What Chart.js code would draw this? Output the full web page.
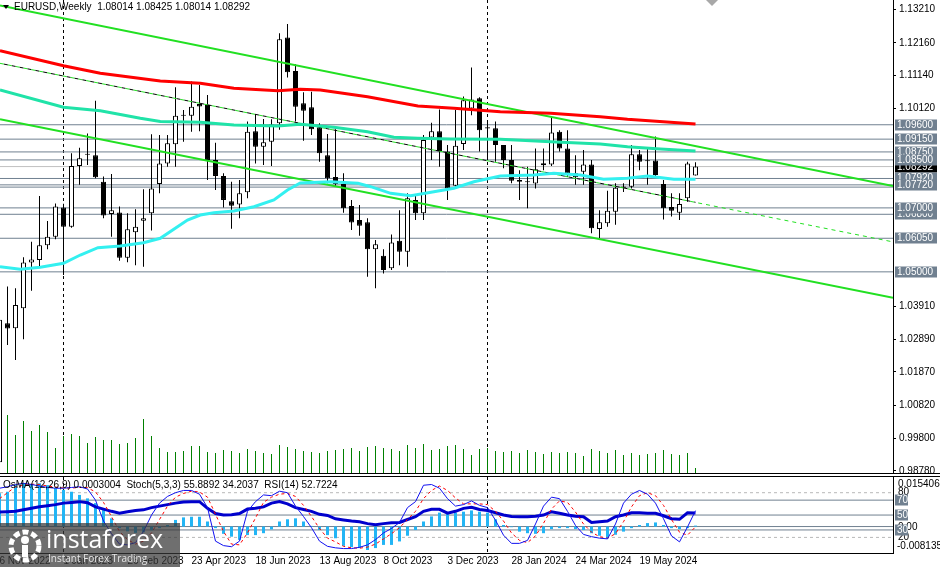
<!DOCTYPE html>
<html>
<head>
<meta charset="utf-8">
<script src="https://cdn.jsdelivr.net/npm/chart.js@4.4.1/dist/chart.umd.min.js"></script>
<style>
  body { margin: 0; background: #fff; }
  #box { position: relative; width: 940px; height: 567px; overflow: hidden; font-family: "Liberation Sans", Arial, sans-serif; }
  canvas { position: absolute; left: 0; }
  #main { top: 0; }
  #ind { top: 474px; }
  .txt { position: absolute; font-size: 10px; line-height: 12px; color: #000; white-space: pre; }
  .tri { position: absolute; width: 0; height: 0; }
  #mark { position: absolute; left: 0; top: 523px; width: 180px; height: 44px; background: rgba(55,55,55,0.72); }
  #mark .big { position: absolute; left: 46px; top: 0px; font: 25px/30px "Open Sans", sans-serif; color: #fff; }
  #mark .small { position: absolute; left: 48px; top: 29px; font: 10px/12px "Open Sans", sans-serif; color: #e6e6e6; }
</style>
</head>
<body>
<div id="box">
  <canvas id="main" width="940" height="474"></canvas>
  <canvas id="ind" width="940" height="93"></canvas>
  <div class="tri" style="left:3px;top:5px;border-left:3px solid transparent;border-right:3px solid transparent;border-top:4px solid #000"></div>
  <div class="txt" id="title1" style="left:14px;top:1px"></div>
  <div class="txt" id="title2" style="left:3px;top:479px"></div>
  <div class="tri" style="left:706px;top:0px;border-left:6px solid transparent;border-right:6px solid transparent;border-top:6px solid #a8a8a8"></div>
  <div id="mark">
    <svg width="40" height="40" viewBox="0 0 40 40" style="position:absolute;left:5px;top:3px">
      <circle cx="20" cy="20" r="14" fill="none" stroke="#fff" stroke-width="5" stroke-dasharray="6 3"/>
      <circle cx="20" cy="14" r="4" fill="#fff"/>
      <rect x="17" y="19" width="6" height="12" fill="#fff"/>
    </svg>
    <div class="big">instaforex</div>
    <div class="small">Instant Forex Trading</div>
  </div>
</div>
<script>
// weekly bars, index 0 = week of 1 Jan 2023; first bar shown is 8 weeks earlier
const firstWeek = -8;

const openP = [0.9905, 1.0339, 1.0324, 1.0386, 1.0529, 1.0537, 1.0583, 1.0610, 1.0701, 1.0641,
  1.0831, 1.0866, 1.0865, 1.0782, 1.0681, 1.0686, 1.0544, 1.0624, 1.0660, 1.0683,
  1.0775, 1.0839, 1.0899, 1.0988, 1.0988, 1.1025, 1.1022, 1.0850, 1.0800, 1.0721,
  1.0711, 1.0749, 1.0940, 1.0891, 1.0907, 1.0965, 1.1233, 1.1128, 1.1027, 1.1015,
  1.0952, 1.0865, 1.0797, 1.0775, 1.0706, 1.0662, 1.0655, 1.0571, 1.0550, 1.0511,
  1.0597, 1.0563, 1.0725, 1.0683, 1.0920, 1.0940, 1.0876, 1.0769, 1.0900, 1.1011,
  1.1043, 1.0952, 1.0949, 1.0897, 1.0850, 1.0787, 1.0782, 1.0776, 1.0833, 1.0836,
  1.0938, 1.0886, 1.0808, 1.0813, 1.0836, 1.0634, 1.0652, 1.0688, 1.0763, 1.0766,
  1.0868, 1.0846, 1.0848, 1.0775, 1.0703, 1.0685, 1.0730, 1.08014];
const highP = [1.0360, 1.0454, 1.0449, 1.0546, 1.0594, 1.0737, 1.0659, 1.0714, 1.0713, 1.0871,
  1.0888, 1.0933, 1.1035, 1.0798, 1.0806, 1.0704, 1.0683, 1.0696, 1.0758, 1.0930,
  1.0928, 1.0928, 1.1077, 1.1006, 1.1095, 1.1084, 1.1053, 1.0904, 1.0808, 1.0782,
  1.0787, 1.0970, 1.0993, 1.0978, 1.0977, 1.1246, 1.1275, 1.1149, 1.1062, 1.1063,
  1.0965, 1.0931, 1.0946, 1.0808, 1.0725, 1.0709, 1.0668, 1.0600, 1.0571, 1.0617,
  1.0693, 1.0746, 1.0740, 1.0928, 1.0966, 1.1008, 1.0897, 1.1006, 1.1048, 1.1139,
  1.1046, 1.0970, 1.0970, 1.0897, 1.0897, 1.0818, 1.0829, 1.0886, 1.0886, 1.0985,
  1.0943, 1.0943, 1.0865, 1.0881, 1.0850, 1.0693, 1.0754, 1.0777, 1.0777, 1.0897,
  1.0881, 1.0886, 1.0923, 1.0787, 1.0746, 1.0746, 1.0844, 1.08425];
const lowP = [0.9900, 1.0271, 1.0224, 1.0289, 1.0441, 1.0516, 1.0571, 1.0602, 1.0490, 1.0638,
  1.0772, 1.0834, 1.0793, 1.0668, 1.0610, 1.0535, 1.0530, 1.0521, 1.0516, 1.0629,
  1.0746, 1.0829, 1.0829, 1.0907, 1.0938, 1.0940, 1.0787, 1.0756, 1.0701, 1.0635,
  1.0668, 1.0730, 1.0839, 1.0834, 1.0831, 1.0944, 1.1108, 1.0970, 1.0910, 1.0928,
  1.0844, 1.0777, 1.0766, 1.0685, 1.0631, 1.0613, 1.0485, 1.0449, 1.0495, 1.0506,
  1.0521, 1.0516, 1.0662, 1.0662, 1.0850, 1.0829, 1.0725, 1.0761, 1.0881, 1.0990,
  1.0876, 1.0850, 1.0844, 1.0824, 1.0777, 1.0725, 1.0699, 1.0761, 1.0818, 1.0831,
  1.0876, 1.0797, 1.0772, 1.0772, 1.0621, 1.0605, 1.0641, 1.0647, 1.0750, 1.0761,
  1.0818, 1.0772, 1.0798, 1.0664, 1.0673, 1.0662, 1.0719, 1.08014];
const closeP = [1.0350, 1.0323, 1.0396, 1.0529, 1.0539, 1.0583, 1.0610, 1.0704, 1.0641, 1.0831,
  1.0855, 1.0868, 1.0796, 1.0676, 1.0693, 1.0544, 1.0633, 1.0641, 1.0668, 1.0761,
  1.0839, 1.0902, 1.0988, 1.0990, 1.1016, 1.1017, 1.0850, 1.0800, 1.0725, 1.0707,
  1.0746, 1.0938, 1.0891, 1.0905, 1.0961, 1.1227, 1.1124, 1.1016, 1.1004, 1.0946,
  1.0871, 1.0793, 1.0775, 1.0699, 1.0654, 1.0644, 1.0571, 1.0586, 1.0506, 1.0592,
  1.0563, 1.0730, 1.0683, 1.0912, 1.0940, 1.0878, 1.0761, 1.0894, 1.1037, 1.1039,
  1.0943, 1.0948, 1.0897, 1.0850, 1.0785, 1.0782, 1.0780, 1.0821, 1.0840, 1.0936,
  1.0886, 1.0808, 1.0796, 1.0836, 1.0636, 1.0655, 1.0691, 1.0763, 1.0767, 1.0868,
  1.0844, 1.0848, 1.0803, 1.0699, 1.0691, 1.0712, 1.0839, 1.08292];
// tick volume (thousands)
const volume = [60, 58, 38, 52, 42, 48, 41, 25, 37, 39, 37, 30, 36, 33, 33, 29, 30, 35, 54, 37,
  25, 21, 21, 22, 27, 27, 21, 20, 23, 22, 20,
  24, 22, 20, 19, 28, 26, 24, 22, 21, 20, 22, 23, 24, 25, 22, 26, 27, 25, 24, 22,
  28, 25, 29, 23, 24, 27, 28, 24, 18, 24, 25, 22, 21, 22, 20, 23, 21, 19, 21, 20,
  21, 20, 17, 24, 22, 20, 23, 18, 20, 18, 19, 20, 23, 19, 18, 20, 5];

// moving averages, read at a few weeks
const maRedWeek = [-7.94, 0, 4.6, 12.1, 17.1, 21.3, 26.8, 29.6, 32.1, 38, 44.3, 48.8, 54.6, 60.9, 67.1, 70.5, 79];
const maRed = [1.11915, 1.11446, 1.11209, 1.10968, 1.10896, 1.10740, 1.10665, 1.10708, 1.10687, 1.10477,
  1.10186, 1.10114, 1.10008, 1.09958, 1.09852, 1.09770, 1.09623];
const maTealWeek = [-7.94, 0, 4.6, 9.6, 12.1, 17.1, 21.3, 26.8, 29.6, 33.8, 38, 41.3, 44.3, 48.4, 54.6, 60.9, 67.1, 70.5, 74.6, 79];
const maTeal = [1.10687, 1.10146, 1.10039, 1.09802, 1.09702, 1.09677, 1.09592, 1.09561, 1.09614, 1.09520,
  1.09383, 1.09207, 1.09176, 1.09154, 1.09145, 1.09070, 1.08998, 1.08914, 1.08842, 1.08779];
const maCyanWeek = [-7.94, -5.4, -2.9, 0, 2.1, 4.3, 7.1, 10, 12.1, 15.5, 17.1, 18.8, 21.3, 23.8, 26.3, 28, 29.6,
  33.4, 36.8, 38.4, 40.9, 43.4, 46.3, 48.8, 51.3, 54.6, 58.8, 61.3, 64.6, 67.5, 70.5, 73, 76.3, 79];
const maCyan = [1.05161, 1.05080, 1.05142, 1.05267, 1.05527, 1.05755, 1.05808, 1.05912, 1.06049, 1.06621,
  1.06778, 1.06850, 1.06903, 1.07037, 1.07247, 1.07560, 1.07778, 1.07819, 1.07769, 1.07663,
  1.07456, 1.07381, 1.07506, 1.07613, 1.07819, 1.07997, 1.08029, 1.08081, 1.08029, 1.07894,
  1.07925, 1.07997, 1.07894, 1.07894];

// channel trend lines (end points)
const channelWeeks = [-7.94, 103.69];
const channelUpper = [1.13326, 1.07685];
const channelLower = [1.09770, 1.04186];
const channelMid = [1.11521, 1.05937];
const midBlackWeeks = [-7.94, 79];
const midBlack = [1.11521, 1.07175];

// horizontal levels
const levelPrices = [1.09600, 1.09150, 1.08750, 1.08500, 1.07920, 1.07720, 1.06800, 1.07000, 1.06050, 1.05000];
const levelPlain = [1.07650];
const bidPrice = 1.08292;

const priceTicks = [1.13210, 1.12160, 1.11140, 1.10120, 1.03910, 1.02890, 1.01870, 1.00820, 0.99800, 0.98780];
const dateTickWeeks = [-8, 0, 8, 16, 24, 32, 40, 48, 56, 64, 72];
const dateTickLabels = ['6 Nov 2022', '1 Jan 2023', '26 Feb 2023', '23 Apr 2023', '18 Jun 2023', '13 Aug 2023',
  '8 Oct 2023', '3 Dec 2023', '28 Jan 2024', '24 Mar 2024', '19 May 2024'];
const separatorWeeks = [0, 53];

// indicator window
const osma = [0.0105, 0.0110, 0.0131, 0.0137, 0.0135, 0.0137, 0.0131, 0.0121, 0.0116, 0.0110,
  0.0100, 0.0089, 0.0074, 0.0052, 0.0026, -0.0005, -0.0015, -0.0020, -0.0018, -0.0012,
  -0.0005, 0.0005, 0.0021, 0.0029, 0.0031, 0.0031, 0.0016, -0.0005, -0.0023, -0.0032,
  -0.0042, -0.0027, -0.0027, -0.0021, -0.0009, 0.0016, 0.0023, 0.0026, 0.0016, 0.0002,
  -0.0011, -0.0027, -0.0037, -0.0061, -0.0065, -0.0068, -0.0074, -0.0068, -0.0058, -0.0058,
  -0.0047, -0.0029, -0.0011, 0.0016, 0.0032, 0.0044, 0.0044, 0.0044, 0.0047, 0.0051,
  0.0047, 0.0044, 0.0023, 0.0005, -0.0002, -0.0016, -0.0021, -0.0023, -0.0021, -0.0008,
  -0.0005, -0.0005, -0.0008, -0.0011, -0.0021, -0.0029, -0.0037, -0.0026, -0.0016, -0.0005,
  0.0005, 0.0011, 0.0013, 0.0005, -0.0005, -0.0008, -0.0005, 0.0003004];
const stochMain = [86, 88, 91, 92.6, 91, 89, 87, 86, 86, 87,
  88, 85, 70, 42, 25, 11, 10, 13, 28, 50,
  66, 75, 80, 83, 83, 78, 60, 15, 9, 7.5,
  15, 55, 68, 77, 76, 82, 80, 62, 48, 33,
  15, 8, 6, 5, 5, 6.7, 10, 17, 26, 32,
  40, 60, 68, 90, 91, 86, 72, 62, 64, 69,
  63, 60, 43, 23, 12, 12, 16, 38, 62, 74,
  72, 55, 36, 24, 21, 19, 18, 38, 66, 78,
  83, 78, 66, 45, 22, 14, 34, 55.8892];
const stochSignal = [72, 80, 88, 90, 91.5, 91, 89, 87.5, 86.3, 86.3,
  87, 86.7, 81, 67, 48, 28, 17, 11, 15, 26,
  44, 62, 74, 79, 82, 81, 74, 51, 28, 11,
  10, 26, 46, 67, 74, 78, 79, 75, 63, 48,
  32, 19, 14, 8, 6, 5.5, 7, 11, 18, 25,
  33, 44, 55, 72, 83, 89, 83, 73, 65, 65,
  65, 64, 55, 42, 26, 16, 13, 22, 39, 58,
  69, 67, 54, 38, 27, 21, 19, 25, 41, 61,
  76, 80, 76, 63, 44, 27, 23, 34.2037];
const rsi = [54, 54.5, 55, 57, 59, 61, 62.5, 64, 66, 67,
  68, 66.5, 61, 58, 55, 52.5, 54.5, 56, 57, 60,
  62, 64, 66, 67.5, 68, 68, 59, 52, 50, 50.5,
  52, 58, 59, 61, 66, 68, 65, 60, 57.5, 55,
  51, 49.5, 45, 43.5, 42, 41, 38.5, 37, 38.5, 39.5,
  40, 44, 47.8, 55, 57.7, 57.7, 52.5, 55, 59, 60.4,
  57.5, 56, 53, 50, 48, 47.8, 47.8, 48.5, 50, 54.5,
  52.5, 50, 48.5, 47.8, 40, 41, 42, 47.8, 50, 53,
  53, 52.5, 52.3, 49, 45, 44.3, 53, 52.7224];
const osmaTop = 0.0154064, osmaBottom = -0.0081351;
const stochDashed = [80, 20];
const stochBoxed = [70, 50, 30];

// ---------------------------------------------------------------
const X_MIN = -7.9375, X_MAX = 103.6875;
const FONT = { family: 'Liberation Sans', size: 10 };
Chart.defaults.font.family = 'Liberation Sans';
Chart.defaults.font.size = 10;

const weeks = openP.map((_, i) => firstWeek + i);
const last = openP.length - 1;

function pts(ws, vs) { return ws.map((w, i) => ({ x: w, y: vs[i] })); }

function lineSet(data, color, width, order, extra) {
  return Object.assign({ type: 'line', data, borderColor: color, borderWidth: width,
    pointRadius: 0, tension: 0, order, yAxisID: 'y' }, extra || {});
}

function hLine(v, color, axis, dash) {
  return { type: 'line', yAxisID: axis, data: [{ x: X_MIN, y: v }, { x: X_MAX, y: v }],
    borderColor: color, borderWidth: 1, borderDash: dash || [], pointRadius: 0, order: 30 };
}

document.getElementById('title1').textContent = 'EURUSD,Weekly  ' +
  [openP[last], highP[last], lowP[last], closeP[last]].map(v => v.toFixed(5)).join(' ');
document.getElementById('title2').textContent = 'OsMA(12,26,9) ' + osma[last].toFixed(7) +
  '  Stoch(5,3,3) ' + stochMain[last].toFixed(4) + ' ' + stochSignal[last].toFixed(4) +
  '  RSI(14) ' + rsi[last].toFixed(4);

function drawSeparators(chart) {
  const { ctx, chartArea: a, scales: { x } } = chart;
  ctx.save();
  ctx.strokeStyle = '#000';
  ctx.lineWidth = 1;
  ctx.setLineDash([3, 3]);
  separatorWeeks.forEach(w => {
    const px = x.getPixelForValue(w);
    ctx.beginPath();
    ctx.moveTo(px, a.top);
    ctx.lineTo(px, a.bottom);
    ctx.stroke();
  });
  ctx.restore();
}

function labelBox(ctx, text, y, bg, w) {
  ctx.fillStyle = bg;
  ctx.fillRect(895, Math.round(y) - 5.5, w, 11);
  ctx.fillStyle = '#fff';
  ctx.textBaseline = 'middle';
  ctx.textAlign = 'left';
  ctx.fillText(text, 897, Math.round(y));
}

const mainDecor = {
  id: 'mainDecor',
  beforeDatasetsDraw(chart) { drawSeparators(chart); },
  afterDraw(chart) {
    const { ctx, chartArea: a, scales: { y } } = chart;
    ctx.save();
    ctx.strokeStyle = '#000';
    ctx.beginPath();
    ctx.moveTo(0, a.bottom - 0.5);
    ctx.lineTo(940, a.bottom - 0.5);
    ctx.stroke();
    ctx.font = '10px "Liberation Sans"';
    labelBox(ctx, bidPrice.toFixed(5), y.getPixelForValue(bidPrice), '#000', 42);
    levelPrices.forEach(p => labelBox(ctx, p.toFixed(5), y.getPixelForValue(p), '#708090', 42));
    ctx.restore();
  }
};

const mainSets = [];
levelPrices.concat(levelPlain).forEach(p => mainSets.push(hLine(p, '#708090', 'y')));
mainSets.push(hLine(bidPrice, '#c0c0c0', 'y'));
mainSets.push({ type: 'bar', yAxisID: 'yv', data: pts(weeks, volume), backgroundColor: '#008000',
  barThickness: 1, grouped: false, inflateAmount: 0, order: 20 });
mainSets.push({ type: 'bar', yAxisID: 'y', data: weeks.map((w, i) => ({ x: w, y: [lowP[i], highP[i]] })),
  backgroundColor: '#000', barThickness: 1, grouped: false, inflateAmount: 0, order: 6 });
mainSets.push({ type: 'bar', yAxisID: 'y', data: weeks.map((w, i) => ({ x: w, y: [openP[i], closeP[i]] })),
  backgroundColor: c => closeP[c.dataIndex] >= openP[c.dataIndex] ? '#fff' : '#000',
  borderColor: '#000', borderWidth: 1, borderSkipped: false, minBarLength: 1,
  barThickness: 5, grouped: false, inflateAmount: 0, order: 5 });
mainSets.push(lineSet(pts(channelWeeks, channelUpper), '#22e022', 2, 3));
mainSets.push(lineSet(pts(channelWeeks, channelLower), '#22e022', 2, 3));
mainSets.push(lineSet(pts(channelWeeks, channelMid), '#22e022', 1, 3, { borderDash: [4, 4] }));
mainSets.push(lineSet(pts(midBlackWeeks, midBlack), '#000', 1, 3, { borderDash: [4, 4], borderDashOffset: 4 }));
mainSets.push(lineSet(pts(maCyanWeek, maCyan), '#33f0f0', 3, 2));
mainSets.push(lineSet(pts(maTealWeek, maTeal), '#20e3a8', 3, 2));
mainSets.push(lineSet(pts(maRedWeek, maRed), '#ff0000', 3, 1));

new Chart(document.getElementById('main'), {
  type: 'bar',
  data: { datasets: mainSets },
  options: {
    responsive: false, animation: false, devicePixelRatio: 1, events: [],
    layout: { padding: 0 },
    plugins: { legend: { display: false }, tooltip: { enabled: false } },
    scales: {
      x: { type: 'linear', display: false, min: X_MIN, max: X_MAX, offset: false },
      y: {
        type: 'linear', position: 'right', min: 0.98679, max: 1.13501,
        afterBuildTicks: s => { s.ticks = priceTicks.map(v => ({ value: v })); },
        afterFit: s => { s.width = 47; s.paddingTop = 0; s.paddingBottom = 0; },
        grid: { drawOnChartArea: false, drawTicks: true, tickLength: 3, color: '#000' },
        border: { display: true, color: '#000' },
        ticks: { autoSkip: false, padding: 3, color: '#000', font: FONT, callback: v => v.toFixed(5) }
      },
      yv: { type: 'linear', display: false, min: -1, max: 473 }
    }
  },
  plugins: [mainDecor]
});

// ---------------- indicator window ----------------
const indDecor = {
  id: 'indDecor',
  beforeDatasetsDraw(chart) { drawSeparators(chart); },
  afterDraw(chart) {
    const { ctx, chartArea: a, scales: { ys, yo } } = chart;
    ctx.save();
    ctx.strokeStyle = '#000';
    ctx.beginPath();
    ctx.moveTo(0, a.top - 0.5);
    ctx.lineTo(940, a.top - 0.5);
    ctx.stroke();
    ctx.font = '10px "Liberation Sans"';
    ctx.textBaseline = 'middle';
    ctx.fillStyle = '#000';
    ctx.fillText(osmaTop.toFixed(7), 898, yo.getPixelForValue(osmaTop) + 6);
    ctx.fillText(osmaBottom.toFixed(7), 897, yo.getPixelForValue(osmaBottom) - 6);
    ctx.fillText('0.00', 898, yo.getPixelForValue(0) + 1);
    stochDashed.forEach(v => ctx.fillText(String(v), 898, ys.getPixelForValue(v)));
    stochBoxed.forEach(v => labelBox(ctx, String(v), ys.getPixelForValue(v), '#708090', 13));
    ctx.restore();
  }
};

const indSets = [];
stochDashed.forEach(v => indSets.push(hLine(v, '#b8b8b8', 'ys', [3, 3])));
stochBoxed.forEach(v => indSets.push(hLine(v, '#708090', 'ys')));
indSets.push(hLine(0, '#708090', 'yo'));
indSets.push({ type: 'bar', yAxisID: 'yo', data: pts(weeks, osma), backgroundColor: '#22b5f5',
  barThickness: 3, grouped: false, inflateAmount: 0, order: 10 });
indSets.push({ type: 'line', yAxisID: 'ys', data: pts(weeks, rsi), borderColor: '#0000cd', borderWidth: 3,
  pointRadius: 0, tension: 0, order: 3 });
indSets.push({ type: 'line', yAxisID: 'ys', data: pts(weeks, stochSignal), borderColor: '#ff0000', borderWidth: 1,
  borderDash: [3, 3], pointRadius: 0, tension: 0, order: 2 });
indSets.push({ type: 'line', yAxisID: 'ys', data: pts(weeks, stochMain), borderColor: '#1010f0', borderWidth: 1,
  pointRadius: 0, tension: 0, order: 1 });

new Chart(document.getElementById('ind'), {
  type: 'bar',
  data: { datasets: indSets },
  options: {
    responsive: false, animation: false, devicePixelRatio: 1, events: [],
    layout: { padding: { top: 3, left: 0, right: 0, bottom: 0 } },
    plugins: { legend: { display: false }, tooltip: { enabled: false } },
    scales: {
      x: {
        type: 'linear', position: 'bottom', min: X_MIN, max: X_MAX, offset: false,
        afterBuildTicks: s => { s.ticks = dateTickWeeks.map(v => ({ value: v })); },
        afterFit: s => { s.height = 14; s.paddingLeft = 0; s.paddingRight = 0; },
        grid: { drawOnChartArea: false, drawTicks: false },
        border: { display: true, color: '#000' },
        ticks: { align: 'start', autoSkip: false, maxRotation: 0, minRotation: 0, padding: 2,
          color: '#000', font: FONT, callback: (v, i) => dateTickLabels[i] }
      },
      ys: {
        type: 'linear', position: 'right', min: -0.94, max: 101.07,
        afterFit: s => { s.width = 47; s.paddingTop = 0; s.paddingBottom = 0; },
        grid: { drawOnChartArea: false, drawTicks: false },
        border: { display: true, color: '#000' },
        ticks: { display: false }
      },
      yo: { type: 'linear', display: false, min: -0.008356, max: 0.015659 }
    }
  },
  plugins: [indDecor]
});
</script>
</body>
</html>
